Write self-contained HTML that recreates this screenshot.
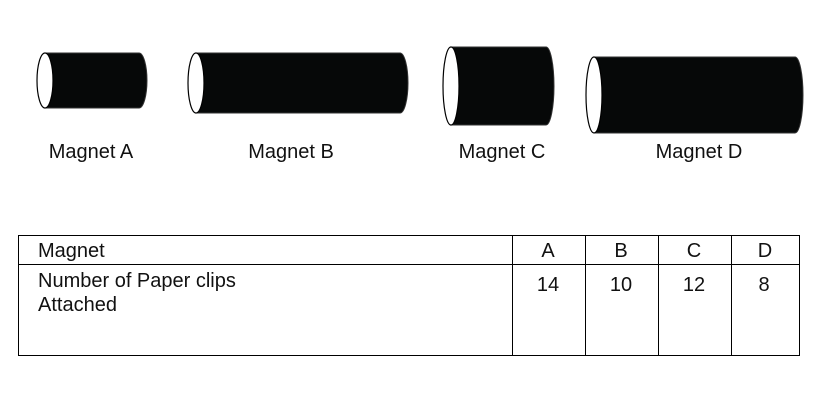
<!DOCTYPE html>
<html><head><meta charset="utf-8"><style>
body{margin:0;background:#fff;}
svg{display:block;font-family:"Liberation Sans",sans-serif;}
</style></head><body>
<svg width="822" height="403" viewBox="0 0 822 403">
<g id="mags"></g>
<g stroke="#000" stroke-width="1" fill="none">
<rect x="18.5" y="235.5" width="781" height="120"/>
<line x1="18" y1="264.5" x2="800" y2="264.5"/>
<line x1="512.5" y1="235" x2="512.5" y2="356"/>
<line x1="585.5" y1="235" x2="585.5" y2="356"/>
<line x1="658.5" y1="235" x2="658.5" y2="356"/>
<line x1="731.5" y1="235" x2="731.5" y2="356"/>
</g>
<g font-size="20" fill="#111">
<text x="38" y="257">Magnet</text>
<text x="548" y="257" text-anchor="middle">A</text>
<text x="621" y="257" text-anchor="middle">B</text>
<text x="694" y="257" text-anchor="middle">C</text>
<text x="765" y="257" text-anchor="middle">D</text>
<text x="38" y="287">Number of Paper clips</text>
<text x="38" y="311">Attached</text>
<text x="548" y="291" text-anchor="middle">14</text>
<text x="621" y="291" text-anchor="middle">10</text>
<text x="694" y="291" text-anchor="middle">12</text>
<text x="764" y="291" text-anchor="middle">8</text>
</g>
</svg>
<script>
const labels=["Magnet A","Magnet B","Magnet C","Magnet D"];
const x0=[37,188,443,586];
const x1=[147,408,554,803];
const y0=[53,53,47,57];
const y1=[108,113,125,133];
const labelX=[91,291,502,699];
const g=document.getElementById('mags');
const NS="http://www.w3.org/2000/svg";
for(let i=0;i<4;i++){
  const ry=(y1[i]-y0[i])/2, cy=(y0[i]+y1[i])/2, rx=8, cx=x0[i]+rx;
  const p=document.createElementNS(NS,'path');
  p.setAttribute('d',`M${cx},${y0[i]} L${x1[i]-rx},${y0[i]} A${rx},${ry} 0 0 1 ${x1[i]-rx},${y1[i]} L${cx},${y1[i]} Z`);
  p.setAttribute('fill','#060808');p.setAttribute('stroke','#333');p.setAttribute('stroke-width','1');
  
  
  g.appendChild(p);
  const e=document.createElementNS(NS,'ellipse');
  e.setAttribute('cx',cx);e.setAttribute('cy',cy);e.setAttribute('rx',rx);e.setAttribute('ry',ry);
  e.setAttribute('fill','#fff');e.setAttribute('stroke','#000');e.setAttribute('stroke-width','1.2');
  
  
  g.appendChild(e);
  const t=document.createElementNS(NS,'text');
  t.setAttribute('x',labelX[i]);t.setAttribute('y',158);t.setAttribute('text-anchor','middle');
  t.setAttribute('font-size','20');t.setAttribute('fill','#111');
  t.textContent=labels[i];
  
  
  g.appendChild(t);
}
</script>
</body></html>
